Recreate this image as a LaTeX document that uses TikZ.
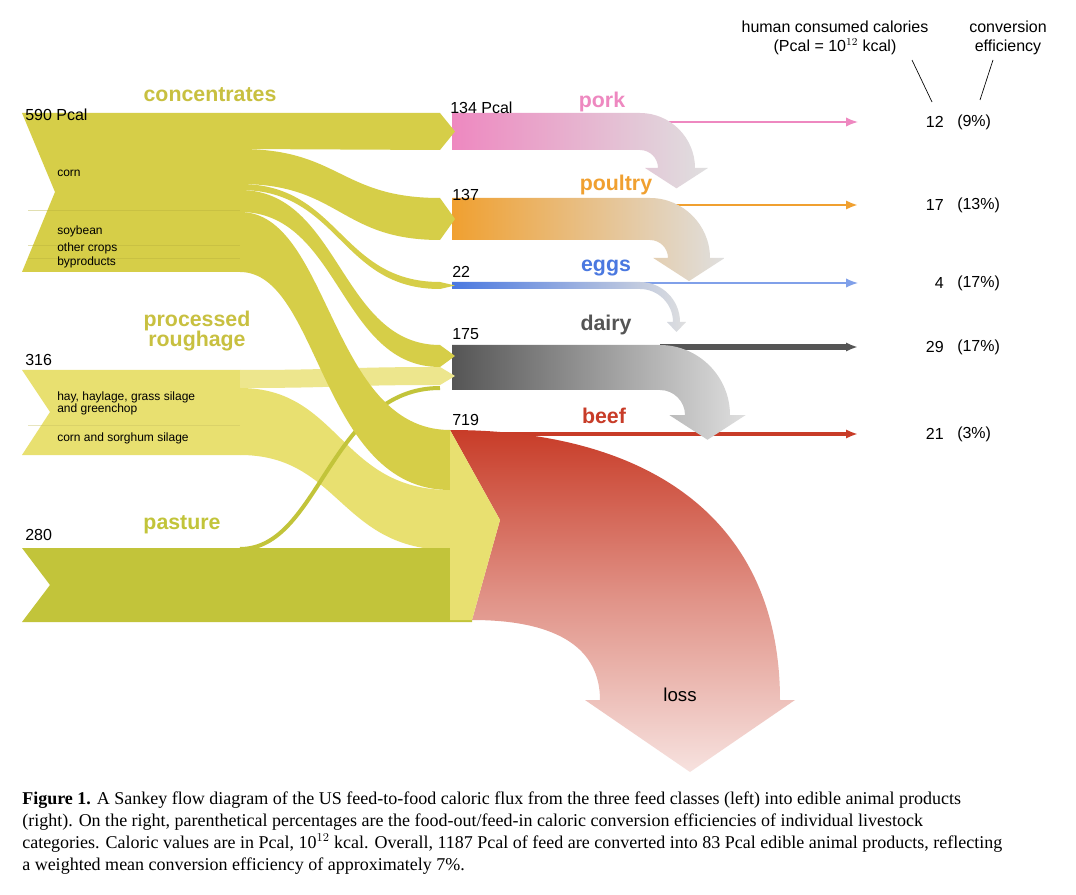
\documentclass[tikz,border=0pt]{standalone}
\usepackage{fontspec}
\usetikzlibrary{arrows.meta}
\setmainfont{Liberation Sans}
\newfontfamily\capfont{Liberation Serif}
\definecolor{conc}{HTML}{D6CE48}
\definecolor{rough}{HTML}{E8E070}
\definecolor{past}{HTML}{C2C43A}
\definecolor{porkc}{HTML}{EE88C0}
\definecolor{poulc}{HTML}{F0A030}
\definecolor{eggc}{HTML}{4A78E0}
\definecolor{dairc}{HTML}{555555}
\definecolor{beefc}{HTML}{C83C28}
\definecolor{lab}{HTML}{C8C040}
\newcommand\inband[5]{% y1a y1b y2a y2b color
  \fill[#5] (240,#1) .. controls (340,#1) and (340,#3) .. (440,#3)
    -- ({455},{(#3+#4)/2}) -- (440,#4) .. controls (340,#4) and (340,#2) .. (240,#2) -- cycle;}
\newcommand\outflow[6]{% top bottom color c R name
  \pgfmathsetmacro\hh{#2-#1}\pgfmathsetmacro\xo{#4+#5}\pgfmathsetmacro\xi{#4+#5-\hh}
  \pgfmathsetmacro\ya{#1+#5}\pgfmathsetmacro\w{max(6,\hh*0.35)}
  \pgfmathsetmacro\tip{\ya+max(10,\hh*0.55)}\pgfmathsetmacro\xm{\xo-\hh/2}
  \pgfmathsetmacro\ri{#5-\hh}
  \shade[left color=#3,right color=gray!25] (452,#1) -- (#4,#1) .. controls ({#4+0.55*#5},#1) and (\xo,{#1+0.45*#5}) .. (\xo,\ya)
    -- ({\xo+\w},\ya) -- (\xm,\tip) -- ({\xi-\w},\ya) -- (\xi,\ya)
    .. controls (\xi,{#2+0.45*\ri}) and ({#4+0.55*\ri},#2) .. (#4,#2) -- (452,#2) -- cycle;
  \coordinate (#6) at (452,#1);}
\begin{document}
\begin{tikzpicture}[x=0.75pt,y=-0.75pt,
  val/.style={font=\fontsize{12}{14}\selectfont,anchor=south west,inner sep=0},
  cat/.style={font=\fontsize{16}{17}\selectfont\bfseries,inner sep=0},
  small/.style={font=\fontsize{9}{9}\selectfont,anchor=west,inner sep=0,align=left},
  outarrow/.style={-{Latex[length=9pt,width=7pt]}}]
\useasboundingbox (0,0) rectangle (1076,895);
\fill[white] (0,0) rectangle (1076,895);
% thin output lines
\draw[outarrow,porkc,line width=1.2pt] (640,122) -- (858,122);
\draw[outarrow,poulc,line width=2pt] (650,205) -- (858,205);
\draw[outarrow,eggc!70,line width=1pt] (640,283) -- (858,283);
\draw[outarrow,dairc,line width=4pt] (660,347) -- (858,347);
\draw[outarrow,beefc,line width=3pt] (480,434) -- (858,434);
% output bands
\outflow{113}{150}{porkc}{640}{55}{pk}
\outflow{198}{240}{poulc}{650}{60}{pl}
\outflow{282}{289}{eggc}{640}{40}{eg}
\outflow{345}{390}{dairc}{660}{70}{dy}
% loss
\shade[top color=beefc, bottom color=beefc!15, middle color=beefc!55] (450,430) -- (500,520) -- (472,620)
  .. controls (560,620) and (600,650) .. (600,700) -- (585,700) -- (690,772) -- (795,700) -- (780,700)
  .. controls (780,520) and (650,430) .. (450,430) -- cycle;
% roughage
\fill[rough] (22,370) -- (240,370) -- (240,455) -- (22,455) -- (50,412) -- cycle;
\inband{370}{388}{367}{385}{rough!80!white}
\fill[rough] (240,388) .. controls (340,388) and (340,490) .. (450,490) -- (450,550) .. controls (340,550) and (340,455) .. (240,455) -- cycle;
% pasture
\fill[past] (22,548) -- (472,548) -- (472,622) -- (22,622) -- (50,585) -- cycle;
\draw[past,line width=3pt] (240,549) .. controls (320,549) and (330,388) .. (440,388);
% concentrates
\fill[conc] (22,113) -- (240,113) -- (240,272) -- (22,272) -- (55,192) -- cycle;
\inband{113}{149}{113}{150}{conc}
\inband{149}{184}{198}{240}{conc}
\inband{184}{190}{282}{289}{conc}
\inband{190}{212}{345}{367}{conc}
\fill[conc] (240,212) .. controls (330,212) and (330,430) .. (450,430) -- (450,490) .. controls (320,490) and (320,272) .. (240,272) -- cycle;
\fill[rough] (450,430) -- (500,520) -- (472,620) -- (450,620) -- cycle;
\draw[conc!85!black,line width=0.3pt,opacity=0.4] (28,210) -- (240,210) (28,245) -- (240,245) (28,258) -- (240,258);
\draw[rough!85!black,line width=0.3pt,opacity=0.4] (28,425) -- (240,425);
% labels
\node[cat,lab] (lc) at (210,95) {concentrates};
\node[cat,lab,align=center] (lr) at (197,331) {processed\\[-2pt]roughage};
\node[cat,past] (lp) at (182,525) {pasture};
\node[val] (v590) at (25,121) {590 Pcal};
\node[val] (v316) at (25,366) {316};
\node[val] (v280) at (25,541) {280};
\node[small] (sc) at (57,173) {corn};
\node[small] (ss) at (57,231) {soybean};
\node[small] (so) at (57,248) {other crops};
\node[small] (sb) at (57,262) {byproducts};
\node[small] (sh) at (57,403) {hay, haylage, grass silage\\and greenchop};
\node[small] (sg) at (57,438) {corn and sorghum silage};
\node[val] (v134) at (450,114) {134 Pcal};
\node[val] (v137) at (452,201) {137};
\node[val] (v22) at (452,278) {22};
\node[val] (v175) at (452,340) {175};
\node[val] (v719) at (452,426) {719};
\node[cat,porkc] (npk) at (602,102) {pork};
\node[cat,poulc] (npl) at (616,185) {poultry};
\node[cat,eggc] (neg) at (606,268) {eggs};
\node[cat,dairc] (ndy) at (606,325) {dairy};
\node[cat,beefc] (nbf) at (604,416) {beef};
\node[font=\fontsize{14}{14}\selectfont] (nls) at (680,695) {loss};
\foreach \y/\a/\b in {122/12/(9\%), 205/17/(13\%), 283/4/(17\%), 347/29/(17\%), 434/21/(3\%)}{
  \node[font=\fontsize{12}{14}\selectfont,anchor=east,inner sep=0] at (944,\y) {\a};
  \node[font=\fontsize{12}{14}\selectfont,anchor=west,inner sep=0] at (957,\y) {\b};}
\node[font=\fontsize{12}{14}\selectfont,align=center,inner sep=0] (h1) at (835,38) {human consumed calories\\(Pcal = 10$^{12}$ kcal)};
\node[font=\fontsize{12}{14}\selectfont,align=center,inner sep=0] (h2) at (1008,38) {conversion\\efficiency};
\coordinate (t1) at (932,102); \coordinate (t2) at (980,100);
\draw[line width=0.5pt] (912,60) -- (t1);
\draw[line width=0.5pt] (993,60) -- (t2);
\node[anchor=north west,inner sep=0,align=left,font=\capfont\fontsize{13.5}{16.4}\selectfont] (cap) at (22,792)
{\textbf{Figure 1.} A Sankey flow diagram of the US feed-to-food caloric flux from the three feed classes (left) into edible animal products\\
(right). On the right, parenthetical percentages are the food-out/feed-in caloric conversion efficiencies of individual livestock\\
categories. Caloric values are in Pcal, 10$^{12}$ kcal. Overall, 1187 Pcal of feed are converted into 83 Pcal edible animal products, reflecting\\
a weighted mean conversion efficiency of approximately 7\%.};
\end{tikzpicture}
\end{document}
